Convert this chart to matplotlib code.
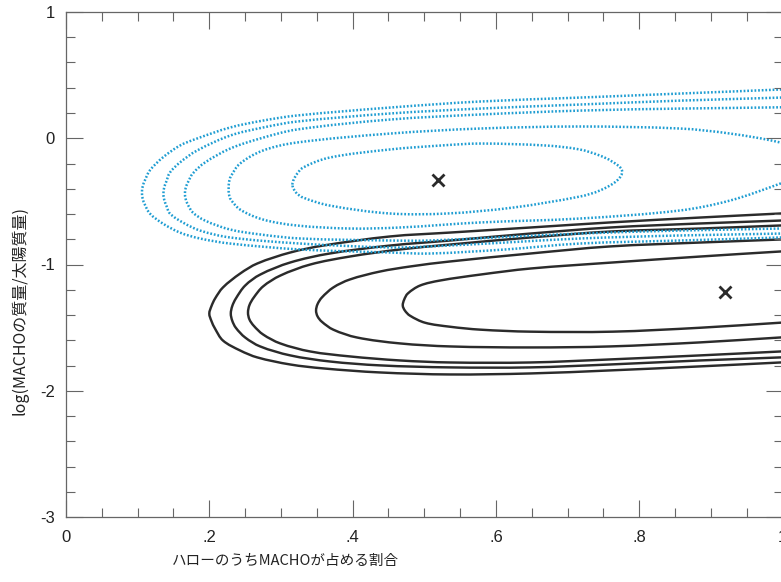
# -*- coding: utf-8 -*-
"""
MACHO 質量とハロー割合の尤度等高線（再現）
"""

import numpy as np
import matplotlib
matplotlib.use("Agg")
import matplotlib.pyplot as plt
from matplotlib.path import Path
from matplotlib.patches import PathPatch
from matplotlib.ticker import MultipleLocator

# === データ（図から読み取った等高線の座標） ===
# 青の点線（外側→内側）
blue_c1_x = [1.024, 0.997, 0.857, 0.717, 0.578, 0.452, 0.322, 0.275, 0.229, 0.183, 0.159, 0.135, 0.117, 0.110, 0.107, 0.106,
             0.107, 0.110, 0.117, 0.135, 0.159, 0.187, 0.229, 0.327, 0.452, 0.508, 0.613, 0.717, 0.857, 0.997, 1.024]
blue_c1_y = [0.394, 0.386, 0.354, 0.322, 0.291, 0.243, 0.180, 0.140, 0.085, -0.002, -0.058, -0.153, -0.255, -0.335, -0.383, -0.430,
             -0.478, -0.525, -0.596, -0.675, -0.747, -0.794, -0.834, -0.881, -0.905, -0.913, -0.881, -0.834, -0.810, -0.786, -0.778]

blue_c2_x = [1.024, 0.997, 0.857, 0.717, 0.578, 0.452, 0.322, 0.275, 0.229, 0.183, 0.159, 0.145, 0.140, 0.137, 0.136,
             0.137, 0.140, 0.145, 0.163, 0.187, 0.229, 0.327, 0.452, 0.508, 0.613, 0.717, 0.857, 0.997, 1.024]
blue_c2_y = [0.330, 0.322, 0.298, 0.267, 0.235, 0.196, 0.132, 0.085, 0.021, -0.097, -0.192, -0.272, -0.343, -0.391, -0.438,
             -0.485, -0.533, -0.596, -0.667, -0.731, -0.786, -0.834, -0.865, -0.857, -0.826, -0.794, -0.770, -0.755, -0.747]

blue_c3_x = [1.024, 0.997, 0.857, 0.717, 0.578, 0.452, 0.322, 0.271, 0.229, 0.194, 0.177, 0.170, 0.167, 0.166,
             0.167, 0.170, 0.177, 0.194, 0.229, 0.271, 0.327, 0.452, 0.508, 0.613, 0.717, 0.857, 0.997, 1.024]
blue_c3_y = [0.251, 0.245, 0.235, 0.219, 0.188, 0.148, 0.069, -0.002, -0.082, -0.192, -0.279, -0.351, -0.395, -0.438,
             -0.481, -0.525, -0.588, -0.652, -0.723, -0.762, -0.794, -0.810, -0.810, -0.782, -0.755, -0.731, -0.715, -0.707]

blue_c4_x = [1.041, 1.024, 0.997, 0.927, 0.857, 0.717, 0.578, 0.452, 0.322, 0.275, 0.243, 0.230, 0.2275, 0.227,
             0.2275, 0.230, 0.243, 0.275, 0.322, 0.396, 0.466, 0.578, 0.717, 0.857, 0.927, 0.997, 1.024, 1.041]
blue_c4_y = [-0.200, -0.097, -0.034, 0.037, 0.077, 0.093, 0.077, 0.037, -0.034, -0.097, -0.200, -0.303, -0.350, -0.398,
             -0.445, -0.485, -0.565, -0.644, -0.691, -0.715, -0.707, -0.667, -0.636, -0.572, -0.493, -0.359, -0.295, -0.200]

blue_c5_x = [0.316, 0.321, 0.331, 0.368, 0.452, 0.522, 0.578, 0.671, 0.717, 0.745, 0.762, 0.776,
             0.769, 0.745, 0.717, 0.624, 0.532, 0.452, 0.368, 0.331, 0.321, 0.316]
blue_c5_y = [-0.367, -0.295, -0.232, -0.153, -0.089, -0.058, -0.042, -0.058, -0.089, -0.137, -0.184, -0.255,
             -0.335, -0.414, -0.462, -0.549, -0.596, -0.596, -0.533, -0.470, -0.430, -0.367]

# 黒の実線（外側→内側）
black_c1_x = [1.024, 0.997, 0.885, 0.759, 0.648, 0.536, 0.452, 0.359, 0.313, 0.267, 0.243, 0.219, 0.208, 0.203, 0.200,
              0.203, 0.208, 0.219, 0.243, 0.267, 0.313, 0.359, 0.438, 0.536, 0.648, 0.759, 0.885, 0.997, 1.024]
black_c1_y = [-0.588, -0.596, -0.628, -0.667, -0.707, -0.747, -0.778, -0.850, -0.905, -0.992, -1.072, -1.182, -1.270, -1.330, -1.389,
              -1.448, -1.508, -1.602, -1.681, -1.736, -1.792, -1.823, -1.855, -1.871, -1.863, -1.839, -1.807, -1.776, -1.768]

black_c2_x = [1.024, 0.997, 0.885, 0.759, 0.648, 0.536, 0.452, 0.368, 0.313, 0.271, 0.250, 0.237, 0.232, 0.230,
              0.232, 0.237, 0.250, 0.271, 0.313, 0.368, 0.438, 0.536, 0.648, 0.759, 0.885, 0.997, 1.024]
black_c2_y = [-0.644, -0.652, -0.675, -0.707, -0.755, -0.810, -0.850, -0.913, -0.984, -1.080, -1.167, -1.270, -1.330, -1.389,
              -1.445, -1.501, -1.578, -1.649, -1.720, -1.768, -1.799, -1.815, -1.815, -1.792, -1.760, -1.736, -1.728]

black_c3_x = [1.024, 0.997, 0.885, 0.759, 0.648, 0.536, 0.466, 0.396, 0.341, 0.299, 0.275, 0.262, 0.256, 0.254,
              0.256, 0.262, 0.275, 0.299, 0.341, 0.396, 0.466, 0.536, 0.648, 0.759, 0.885, 0.997, 1.024]
black_c3_y = [-0.683, -0.691, -0.715, -0.739, -0.786, -0.842, -0.881, -0.937, -1.000, -1.088, -1.174, -1.262, -1.322, -1.381,
              -1.435, -1.485, -1.554, -1.625, -1.689, -1.728, -1.760, -1.776, -1.776, -1.752, -1.720, -1.689, -1.681]

black_c4_x = [1.024, 0.997, 0.885, 0.759, 0.648, 0.536, 0.480, 0.438, 0.396, 0.373, 0.357, 0.351,
              0.349, 0.351, 0.357, 0.373, 0.406, 0.466, 0.536, 0.648, 0.759, 0.885, 0.997, 1.024]
black_c4_y = [-0.794, -0.802, -0.826, -0.857, -0.913, -0.976, -1.016, -1.056, -1.119, -1.182, -1.262, -1.315,
              -1.365, -1.410, -1.453, -1.516, -1.578, -1.625, -1.649, -1.657, -1.649, -1.617, -1.578, -1.570]

black_c5_x = [1.024, 0.997, 0.885, 0.763, 0.648, 0.578, 0.522, 0.494, 0.477, 0.472, 0.470,
              0.473, 0.480, 0.501, 0.536, 0.578, 0.648, 0.763, 0.885, 0.997, 1.024]
black_c5_y = [-0.889, -0.897, -0.937, -0.984, -1.032, -1.080, -1.127, -1.167, -1.230, -1.278, -1.325,
              -1.365, -1.405, -1.461, -1.493, -1.516, -1.532, -1.532, -1.501, -1.461, -1.453]

# 最尤点（×印）
best_x = [0.519, 0.920]
best_y = [-0.333, -1.215]

x_ticks = [0, 0.2, 0.4, 0.6, 0.8, 1.0]
x_tick_labels = ["0", ".2", ".4", ".6", ".8", "1"]
y_ticks = [-3, -2, -1, 0, 1]
y_tick_labels = ["-3", "-2", "-1", "0", "1"]

XLABEL = "ハローのうちMACHOが占める割合"
YLABEL = "log(MACHOの質量/太陽質量)"


# === 関数 ===
def smooth_path(ax, xs, ys, closed=False):
    """読み取り点を通る滑らかなベジェ曲線（表示座標で接線を決める）"""
    pts = ax.transData.transform(np.column_stack([xs, ys]))
    if closed:
        pts = pts[:-1]
    n = len(pts)

    def nb(i):
        if closed:
            return pts[i % n]
        return pts[min(max(i, 0), n - 1)]

    tang = []
    for i in range(n):
        t = nb(i + 1) - nb(i - 1)
        tang.append(t / np.hypot(*t))

    verts = [pts[0]]
    codes = [Path.MOVETO]
    for i in (range(n) if closed else range(n - 1)):
        a, b = pts[i], pts[(i + 1) % n]
        d = np.hypot(*(b - a)) / 3
        verts += [a + tang[i] * d, b - tang[(i + 1) % n] * d, b]
        codes += [Path.CURVE4] * 3
    verts = ax.transData.inverted().transform(np.array(verts))
    return Path(verts, codes)


# === 描画 ===
plt.rcParams["font.family"] = ["Liberation Sans", "Noto Sans CJK JP", "DejaVu Sans"]

BLUE = "#1f9dd2"
DARK = "#2b2b2b"
AXIS_GRAY = "#666666"

fig = plt.figure(figsize=(7.81, 5.82), dpi=100)
ax = fig.add_axes([66 / 781, 65 / 582, 716.5 / 781, 505 / 582])
ax.set_xlim(0, 1)
ax.set_ylim(-3, 1)

blue_sets = [(blue_c1_x, blue_c1_y, False), (blue_c2_x, blue_c2_y, False), (blue_c3_x, blue_c3_y, False),
             (blue_c4_x, blue_c4_y, False), (blue_c5_x, blue_c5_y, True)]
black_sets = [(black_c1_x, black_c1_y), (black_c2_x, black_c2_y), (black_c3_x, black_c3_y),
              (black_c4_x, black_c4_y), (black_c5_x, black_c5_y)]

for xs, ys in black_sets:
    ax.add_patch(PathPatch(smooth_path(ax, xs, ys), fill=False, edgecolor=DARK, lw=1.75,
                           joinstyle="round", capstyle="round"))
for xs, ys, closed in blue_sets:
    ax.add_patch(PathPatch(smooth_path(ax, xs, ys, closed), fill=False, edgecolor=BLUE, lw=1.8,
                           linestyle=(0, (0.7, 0.75)), capstyle="butt"))

ax.plot(best_x, best_y, linestyle="none", marker="x", color=DARK, ms=8, mew=2.0)

ax.set_xticks(x_ticks)
ax.set_xticklabels(x_tick_labels)
ax.set_yticks(y_ticks)
ax.set_yticklabels(y_tick_labels)
ax.xaxis.set_minor_locator(MultipleLocator(0.05))
ax.yaxis.set_minor_locator(MultipleLocator(0.2))

ax.tick_params(which="both", direction="in", top=True, right=True, colors=AXIS_GRAY,
               labelcolor="#222222", labelsize=12)
ax.tick_params(which="major", length=12, width=0.8)
ax.tick_params(which="minor", length=6.3, width=0.8)
ax.tick_params(axis="x", pad=9)
ax.tick_params(axis="y", pad=8)
for sp in ax.spines.values():
    sp.set_color(AXIS_GRAY)
    sp.set_linewidth(0.9)

ax.set_xlabel(XLABEL, fontsize=10.5, color="#222222", family=["Noto Sans CJK JP", "DejaVu Sans"])
ax.xaxis.set_label_coords(0.307, -0.074)
ax.set_ylabel(YLABEL, fontsize=11.5, color="#222222", family=["Noto Sans CJK JP", "DejaVu Sans"])
ax.yaxis.set_label_coords(-0.052, 0.408)

fig.savefig("out.png", dpi=100, facecolor="white")
